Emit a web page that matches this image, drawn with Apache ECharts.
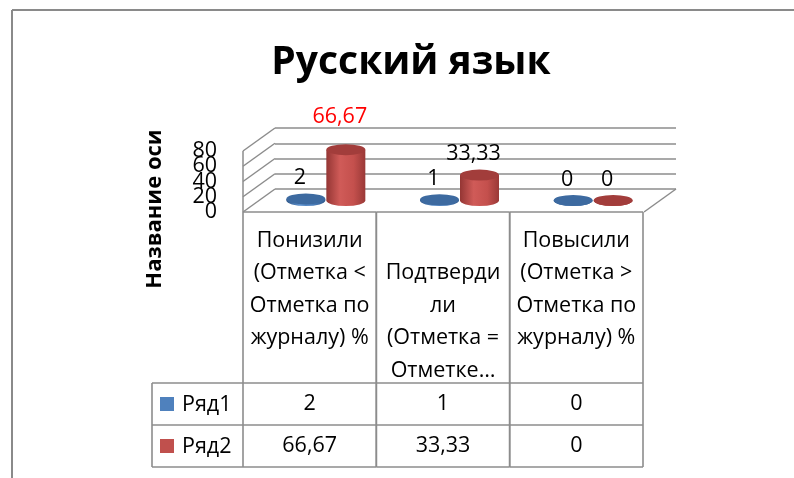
<!DOCTYPE html>
<html><head><meta charset="utf-8">
<script src="https://cdn.jsdelivr.net/npm/echarts@6/dist/echarts.min.js"></script>
<style>html,body{margin:0;padding:0;background:#fff}#c{width:794px;height:478px}</style>
</head><body><div id="c"></div>
<script>
// ---- data ----
const titleText = 'Русский язык';
const axisTitle = 'Название оси';
const categories = [
  'Понизили (Отметка < Отметка по журналу) %',
  'Подтвердили (Отметка = Отметке по журналу) %',
  'Повысили (Отметка > Отметка по журналу) %'
];
const categoryLabels = [
  'Понизили\n(Отметка <\nОтметка по\nжурналу) %',
  ' \nПодтверди\nли\n(Отметка =\nОтметке…',
  'Повысили\n(Отметка >\nОтметка по\nжурналу) %'
];
const seriesNames = ['Ряд1', 'Ряд2'];
const series1 = [2, 1, 0];
const series2 = [66.67, 33.33, 0];
const yTicks = [0, 20, 40, 60, 80];

// ---- style ----
const FONT = '"Open Sans", sans-serif';
const FS = 21.5;
const LINE = '#8c8c8c';
const DX = -32, DY = 23;           // depth offset back -> front
const fmt = v => String(v).replace('.', ',');
const palettes = [
  { key: '#4f81bd', top: '#3d6aa0', body: ['#2f5688', '#5f93cf', '#4a7dba', '#32598c'] },
  { key: '#c0504d', top: '#a23d3b', body: ['#943634', '#d05b58', '#c4504d', '#9a3937'] }
];
const labelStyle = { '1-0': { dy: -33, color: '#ff0000' } };

const chart = echarts.init(document.getElementById('c'), null, { renderer: 'canvas' });

function cylRender(si) {
  const pal = palettes[si];
  return function (params, api) {
    const idx = api.value(0), v = api.value(1);
    const p0 = api.coord([idx, 0]);
    const p1 = api.coord([idx, v]);
    const cx = p0[0] + DX / 2 + (si === 0 ? -20 : 20);
    const yb = p0[1] + DY / 2;
    const yt = p1[1] + DY / 2;
    const rx = 19.5, ry = 5.5;
    const body = `M${cx - rx},${yt} L${cx - rx},${yb} A${rx},${ry} 0 0 0 ${cx + rx},${yb} L${cx + rx},${yt} Z`;
    const top = `M${cx - rx},${yt} A${rx},${ry} 0 1 0 ${cx + rx},${yt} A${rx},${ry} 0 1 0 ${cx - rx},${yt} Z`;
    const ls = labelStyle[si + '-' + idx] || {};
    return {
      type: 'group',
      children: [
        { type: 'path', shape: { pathData: body }, style: { fill: new echarts.graphic.LinearGradient(0, 0, 1, 0, [
          { offset: 0, color: pal.body[0] }, { offset: 0.35, color: pal.body[1] },
          { offset: 0.7, color: pal.body[2] }, { offset: 1, color: pal.body[3] }]) } },
        { type: 'path', shape: { pathData: top }, style: { fill: pal.top } },
        { type: 'text', x: cx - 6, y: yt + (ls.dy != null ? ls.dy : -21),
          style: { text: fmt(v), fill: ls.color || '#000', fontSize: FS, fontFamily: FONT,
                   align: 'center', verticalAlign: 'middle' } }
      ]
    };
  };
}

function wallRender(params, api) {
  const cs = params.coordSys;
  const v = api.value(1);
  const y = api.coord([0, v])[1];
  const children = [
    { type: 'line', shape: { x1: cs.x, y1: y, x2: cs.x + DX, y2: y + DY }, style: { stroke: LINE, lineWidth: 1.5 } }
  ];
  if (v === 0) {
    const xr = cs.x + cs.width;
    children.push({ type: 'line', shape: { x1: xr, y1: y, x2: xr + DX, y2: y + DY }, style: { stroke: LINE, lineWidth: 1.5 } });
  }
  if (v === yTicks[yTicks.length - 1]) {
    const y0 = api.coord([0, 0])[1];
    children.push({ type: 'line', shape: { x1: cs.x + DX, y1: y + DY, x2: cs.x + DX, y2: y0 + DY }, style: { stroke: LINE, lineWidth: 1.5 } });
  }
  return { type: 'group', children };
}

function tickRender(params, api) {
  const cs = params.coordSys;
  const v = api.value(1);
  const y = api.coord([0, v])[1];
  return { type: 'text', x: cs.x - 26, y: y,
    style: { text: String(v), fill: '#000', fontSize: FS, fontFamily: FONT, align: 'right', verticalAlign: 'middle' } };
}

function tableRender(params, api) {
  const idx = api.value(0);
  const p = api.coord([idx, 0]);
  const w = api.size([1, 0])[0];
  const xl = p[0] - w / 2, xr = p[0] + w / 2;
  const y0 = p[1];
  const yH = y0 + 171, yR1 = yH + 42, yR2 = yR1 + 42;
  const st = { stroke: LINE, lineWidth: 1.6 };
  const ln = (x1, y1, x2, y2) => ({ type: 'line', shape: { x1, y1, x2, y2 }, style: st });
  const tx = (text, x, y, align) => ({ type: 'text', x, y, style: { text, fill: '#000', fontSize: FS, fontFamily: FONT, align: align || 'center', verticalAlign: 'middle' } });
  const children = [
    ln(xl, y0, xr, y0), ln(xl, y0, xl, yR2), ln(xr, y0, xr, yR2),
    ln(xl, yH, xr, yH), ln(xl, yR1, xr, yR1), ln(xl, yR2, xr, yR2),
    tx(fmt(series1[idx]), p[0], (yH + yR1) / 2),
    tx(fmt(series2[idx]), p[0], (yR1 + yR2) / 2)
  ];
  if (idx === 0) {
    const lx = xl - 91;
    children.push(ln(lx, yH, xl, yH), ln(lx, yR1, xl, yR1), ln(lx, yR2, xl, yR2), ln(lx, yH, lx, yR2));
    [[yH, yR1], [yR1, yR2]].forEach((r, si) => {
      const my = (r[0] + r[1]) / 2;
      children.push({ type: 'rect', shape: { x: xl - 83, y: my - 7, width: 14, height: 14 }, style: { fill: palettes[si].key } });
      children.push(tx(seriesNames[si], xl - 61, my + 1, 'left'));
    });
  }
  return { type: 'group', children };
}

const option = {
  backgroundColor: '#fff',
  animation: false,
  title: {
    text: titleText, left: 406, textAlign: 'center', top: 38,
    textStyle: { fontFamily: FONT, fontWeight: 'bold', fontSize: 39, color: '#000' }
  },
  graphic: [
    { type: 'line', shape: { x1: 12, y1: 10, x2: 794, y2: 10 }, style: { stroke: '#8a8a8a', lineWidth: 2 } },
    { type: 'line', shape: { x1: 12, y1: 10, x2: 12, y2: 478 }, style: { stroke: '#8a8a8a', lineWidth: 2 } },
    { type: 'text', x: 155, y: 209, rotation: Math.PI / 2,
      style: { text: axisTitle, fill: '#000', fontFamily: FONT, fontWeight: 'bold', fontSize: 22, align: 'center', verticalAlign: 'middle' } }
  ],
  grid: [
    { left: 275, top: 128, width: 401, height: 61 },   // back wall
    { left: 243, top: 151, width: 400, height: 61 }    // front plane / table
  ],
  xAxis: [
    { gridIndex: 0, type: 'category', data: categories, show: false },
    { gridIndex: 1, type: 'category', data: categories,
      axisLine: { show: false }, axisTick: { show: false },
      axisLabel: { interval: 0, margin: 12.5, lineHeight: 32.5, fontSize: FS, fontFamily: FONT, color: '#000',
                   formatter: (v, i) => categoryLabels[i] } }
  ],
  yAxis: [
    { gridIndex: 0, type: 'value', min: yTicks[0], max: yTicks[yTicks.length - 1], interval: 20,
      axisLabel: { show: false }, axisLine: { show: false }, axisTick: { show: false },
      splitLine: { show: true, lineStyle: { color: LINE, width: 1.5 } } },
    { gridIndex: 1, type: 'value', min: yTicks[0], max: yTicks[yTicks.length - 1], interval: 20,
      axisLine: { show: false }, axisTick: { show: false }, splitLine: { show: false },
      axisLabel: { show: false } }
  ],
  series: [
    { type: 'custom', name: 'walls', xAxisIndex: 0, yAxisIndex: 0, clip: false, silent: true,
      data: yTicks.map(v => [0, v]), renderItem: wallRender, z: 1 },
    { type: 'custom', name: 'ticks', xAxisIndex: 1, yAxisIndex: 1, clip: false, silent: true,
      data: yTicks.map(v => [0, v]), renderItem: tickRender, z: 5 },
    { type: 'custom', name: seriesNames[0], xAxisIndex: 0, yAxisIndex: 0, clip: false,
      data: series1.map((v, i) => [i, v]), renderItem: cylRender(0), z: 3 },
    { type: 'custom', name: seriesNames[1], xAxisIndex: 0, yAxisIndex: 0, clip: false,
      data: series2.map((v, i) => [i, v]), renderItem: cylRender(1), z: 4 },
    { type: 'custom', name: 'table', xAxisIndex: 1, yAxisIndex: 1, clip: false, silent: true,
      data: categories.map((c, i) => [i, 0]), renderItem: tableRender, z: 2 }
  ]
};
chart.setOption(option);
</script></body></html>
